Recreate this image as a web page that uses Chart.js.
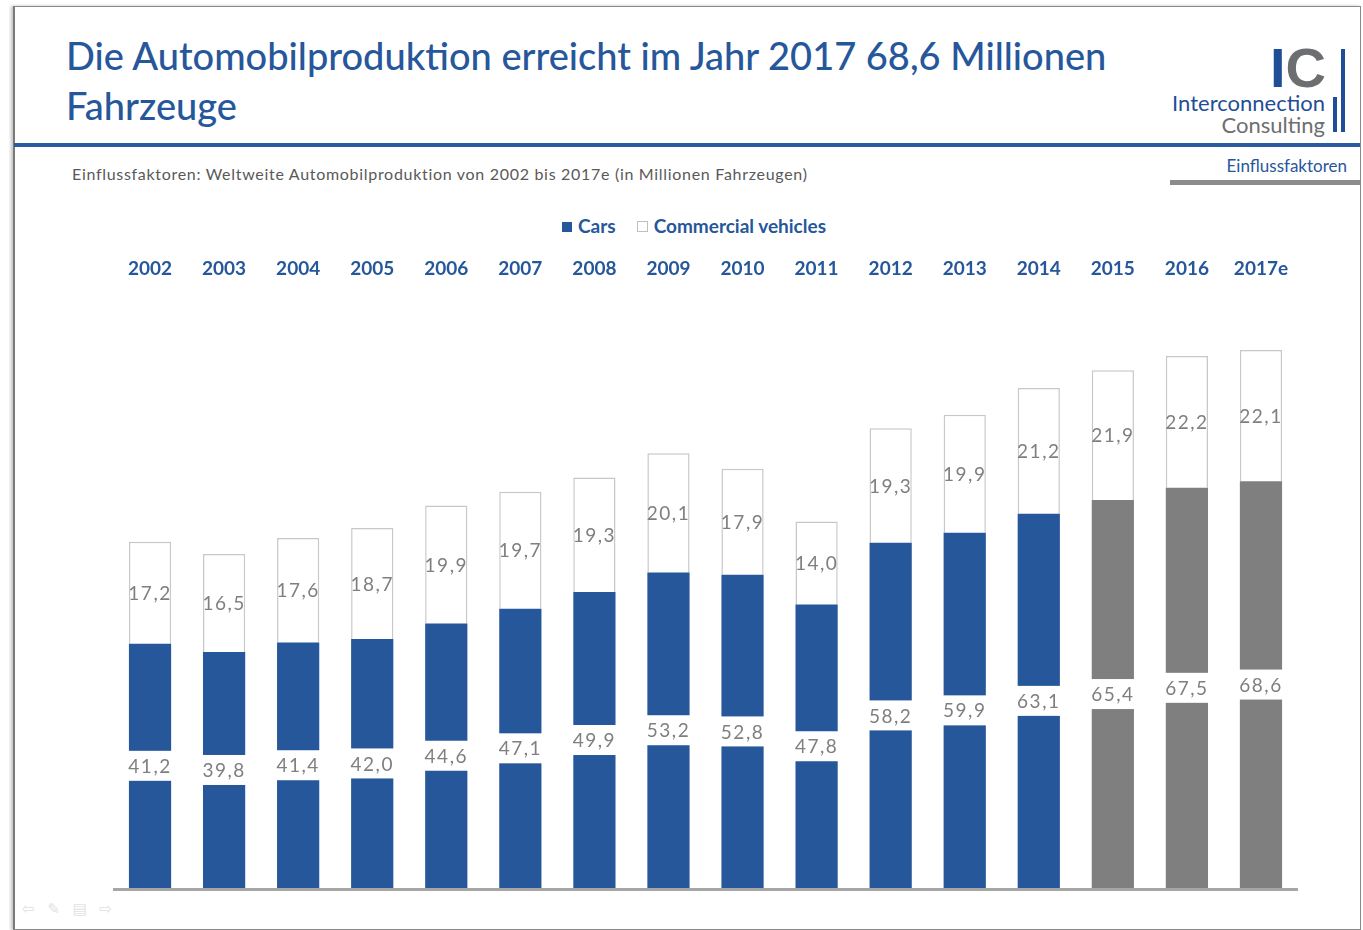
<!DOCTYPE html>
<html>
<head>
<meta charset="utf-8">
<script src="https://cdn.jsdelivr.net/npm/chart.js"></script>
<style>
  body { margin: 0; background: #fff; font-family: Lato, "Noto Sans", sans-serif; }
  #page { position: relative; width: 1363px; height: 930px; overflow: hidden; }
  #frame { position: absolute; left: 13px; top: 6px; width: 1345px; height: 922px;
           border: 1px solid #8a8a8a; border-left: 2px solid #7a7a7a;
           box-shadow: -2px 0 3px rgba(0,0,0,0.25); }
  .abs { position: absolute; white-space: nowrap; }
  #title { left: 66px; top: 30px; font-size: 38px; line-height: 50px; color: #27579b; font-weight: 500; }
  #rule { left: 14px; top: 143px; width: 1346px; height: 4px; background: #2a5a9f; }
  #sub { left: 72px; top: 164px; font-size: 16px; letter-spacing: 0.7px; color: #595959; }
  #tab { right: 16px; top: 155px; font-size: 17px; color: #27579b; }
  #tabbar { left: 1170px; top: 180px; width: 190px; height: 5px; background: #8c8c8c; }
  #ic { left: 1270px; top: 37px; font-family: "Liberation Sans", sans-serif; font-weight: bold; font-size: 56px; line-height: 62px; }
  #bar1 { left: 1341px; top: 49px; width: 4px; height: 83px; background: #1f4e96; }
  #bar2 { left: 1333px; top: 97px; width: 4px; height: 35px; background: #1f4e96; }
  #inter { right: 38px; top: 89px; font-size: 22px; color: #1f4e96; font-weight: 400; }
  #cons { right: 38px; top: 111px; font-size: 22px; color: #6d6e71; font-weight: 400; }
  #nav { left: 22px; top: 900px; font-family: "DejaVu Sans", sans-serif; font-size: 15px; color: #e2e2e2; word-spacing: 8px; }
  #legend { left: 562px; top: 214px; font-size: 19px; font-weight: bold; color: #25579a; }
  #legend i { display: inline-block; width: 10px; height: 10px; margin-right: 6px; vertical-align: 1px; }
  #wrap { position: absolute; left: 0; top: 241px; width: 1363px; height: 659px; }
</style>
</head>
<body>
<div id="page">
  <div id="frame"></div>
  <div id="title" class="abs">Die Automobilproduktion erreicht im Jahr 2017 68,6 Millionen<br>Fahrzeuge</div>
  <div id="ic" class="abs"><span style="color:#1f4e96">I</span><span style="color:#6d6e71">C</span></div>
  <div id="bar1" class="abs"></div>
  <div id="bar2" class="abs"></div>
  <div id="inter" class="abs">Interconnection</div>
  <div id="cons" class="abs">Consulting</div>
  <div id="rule" class="abs"></div>
  <div id="sub" class="abs">Einflussfaktoren: Weltweite Automobilproduktion von 2002 bis 2017e (in Millionen Fahrzeugen)</div>
  <div id="tab" class="abs">Einflussfaktoren</div>
  <div id="tabbar" class="abs"></div>
  <div id="nav" class="abs">⇦ ✎ ▤ ⇨</div>
  <div id="legend" class="abs"><i style="background:#25579a"></i>Cars<span style="display:inline-block;width:21px"></span><i style="background:#fff;border:1px solid #bfbfbf;width:9px;height:9px"></i>Commercial vehicles</div>
  <div id="wrap"><canvas id="chart"></canvas></div>
</div>
<script>
// Daten
const years = ['2002', '2003', '2004', '2005', '2006', '2007', '2008', '2009',
               '2010', '2011', '2012', '2013', '2014', '2015', '2016', '2017e'];
const cars = [41.2, 39.8, 41.4, 42.0, 44.6, 47.1, 49.9, 53.2, 52.8, 47.8, 58.2, 59.9, 63.1, 65.4, 67.5, 68.6];
const commercial = [17.2, 16.5, 17.6, 18.7, 19.9, 19.7, 19.3, 20.1, 17.9, 14.0, 19.3, 19.9, 21.2, 21.9, 22.2, 22.1];
const forecastYears = ['2015', '2016', '2017e'];

const BLUE = '#25579a';
const GREY = '#7f7f7f';

// Beschriftung der Segmente + Grundlinie
const labelPlugin = {
  id: 'segLabels',
  afterDatasetsDraw(chart) {
    const ctx = chart.ctx;
    const area = chart.chartArea;
    const y0 = chart.scales.y.getPixelForValue(0);
    ctx.save();
    ctx.font = '19px Lato';
    ctx.letterSpacing = '1.5px';
    ctx.fillStyle = '#7f7f7f';
    ctx.textAlign = 'center';
    ctx.textBaseline = 'middle';
    chart.data.datasets.forEach((ds, di) => {
      chart.getDatasetMeta(di).data.forEach((bar, i) => {
        const cy = (bar.y + bar.base) / 2;
        if (di === 0) {
          ctx.fillStyle = '#fff';
          ctx.fillRect(bar.x - bar.width / 2 - 1, cy - 15, bar.width + 2, 30);
          ctx.fillStyle = '#7f7f7f';
        }
        ctx.fillText(ds.data[i].toFixed(1).replace('.', ','), bar.x, cy + 1);
      });
    });
    ctx.strokeStyle = '#a6a6a6';
    ctx.lineWidth = 3;
    ctx.beginPath();
    ctx.moveTo(area.left, y0 + 1.5);
    ctx.lineTo(area.right, y0 + 1.5);
    ctx.stroke();
    ctx.restore();
  }
};

new Chart(document.getElementById('chart'), {
  type: 'bar',
  data: {
    labels: years,
    datasets: [{
      label: 'Cars',
      data: cars,
      backgroundColor: years.map(y => forecastYears.includes(y) ? GREY : BLUE),
      borderWidth: 0
    }, {
      label: 'Commercial vehicles',
      data: commercial,
      backgroundColor: '#ffffff',
      borderColor: '#c8c8c8',
      borderWidth: 1.5
    }]
  },
  options: {
    responsive: true,
    maintainAspectRatio: false,
    animation: false,
    layout: { padding: { left: 113, right: 65, top: 0, bottom: 12 } },
    datasets: { bar: { barPercentage: 0.57, categoryPercentage: 1 } },
    plugins: {
      tooltip: { enabled: false },
      legend: { display: false }
    },
    scales: {
      x: {
        position: 'top',
        stacked: true,
        grid: { display: false },
        border: { display: false },
        ticks: {
          color: BLUE,
          padding: 16,
          font: { family: 'Lato', size: 19, weight: 'bold' }
        }
      },
      y: {
        stacked: true,
        display: false,
        min: 0,
        max: 98.5
      }
    }
  },
  plugins: [labelPlugin]
});
</script>
</body>
</html>
